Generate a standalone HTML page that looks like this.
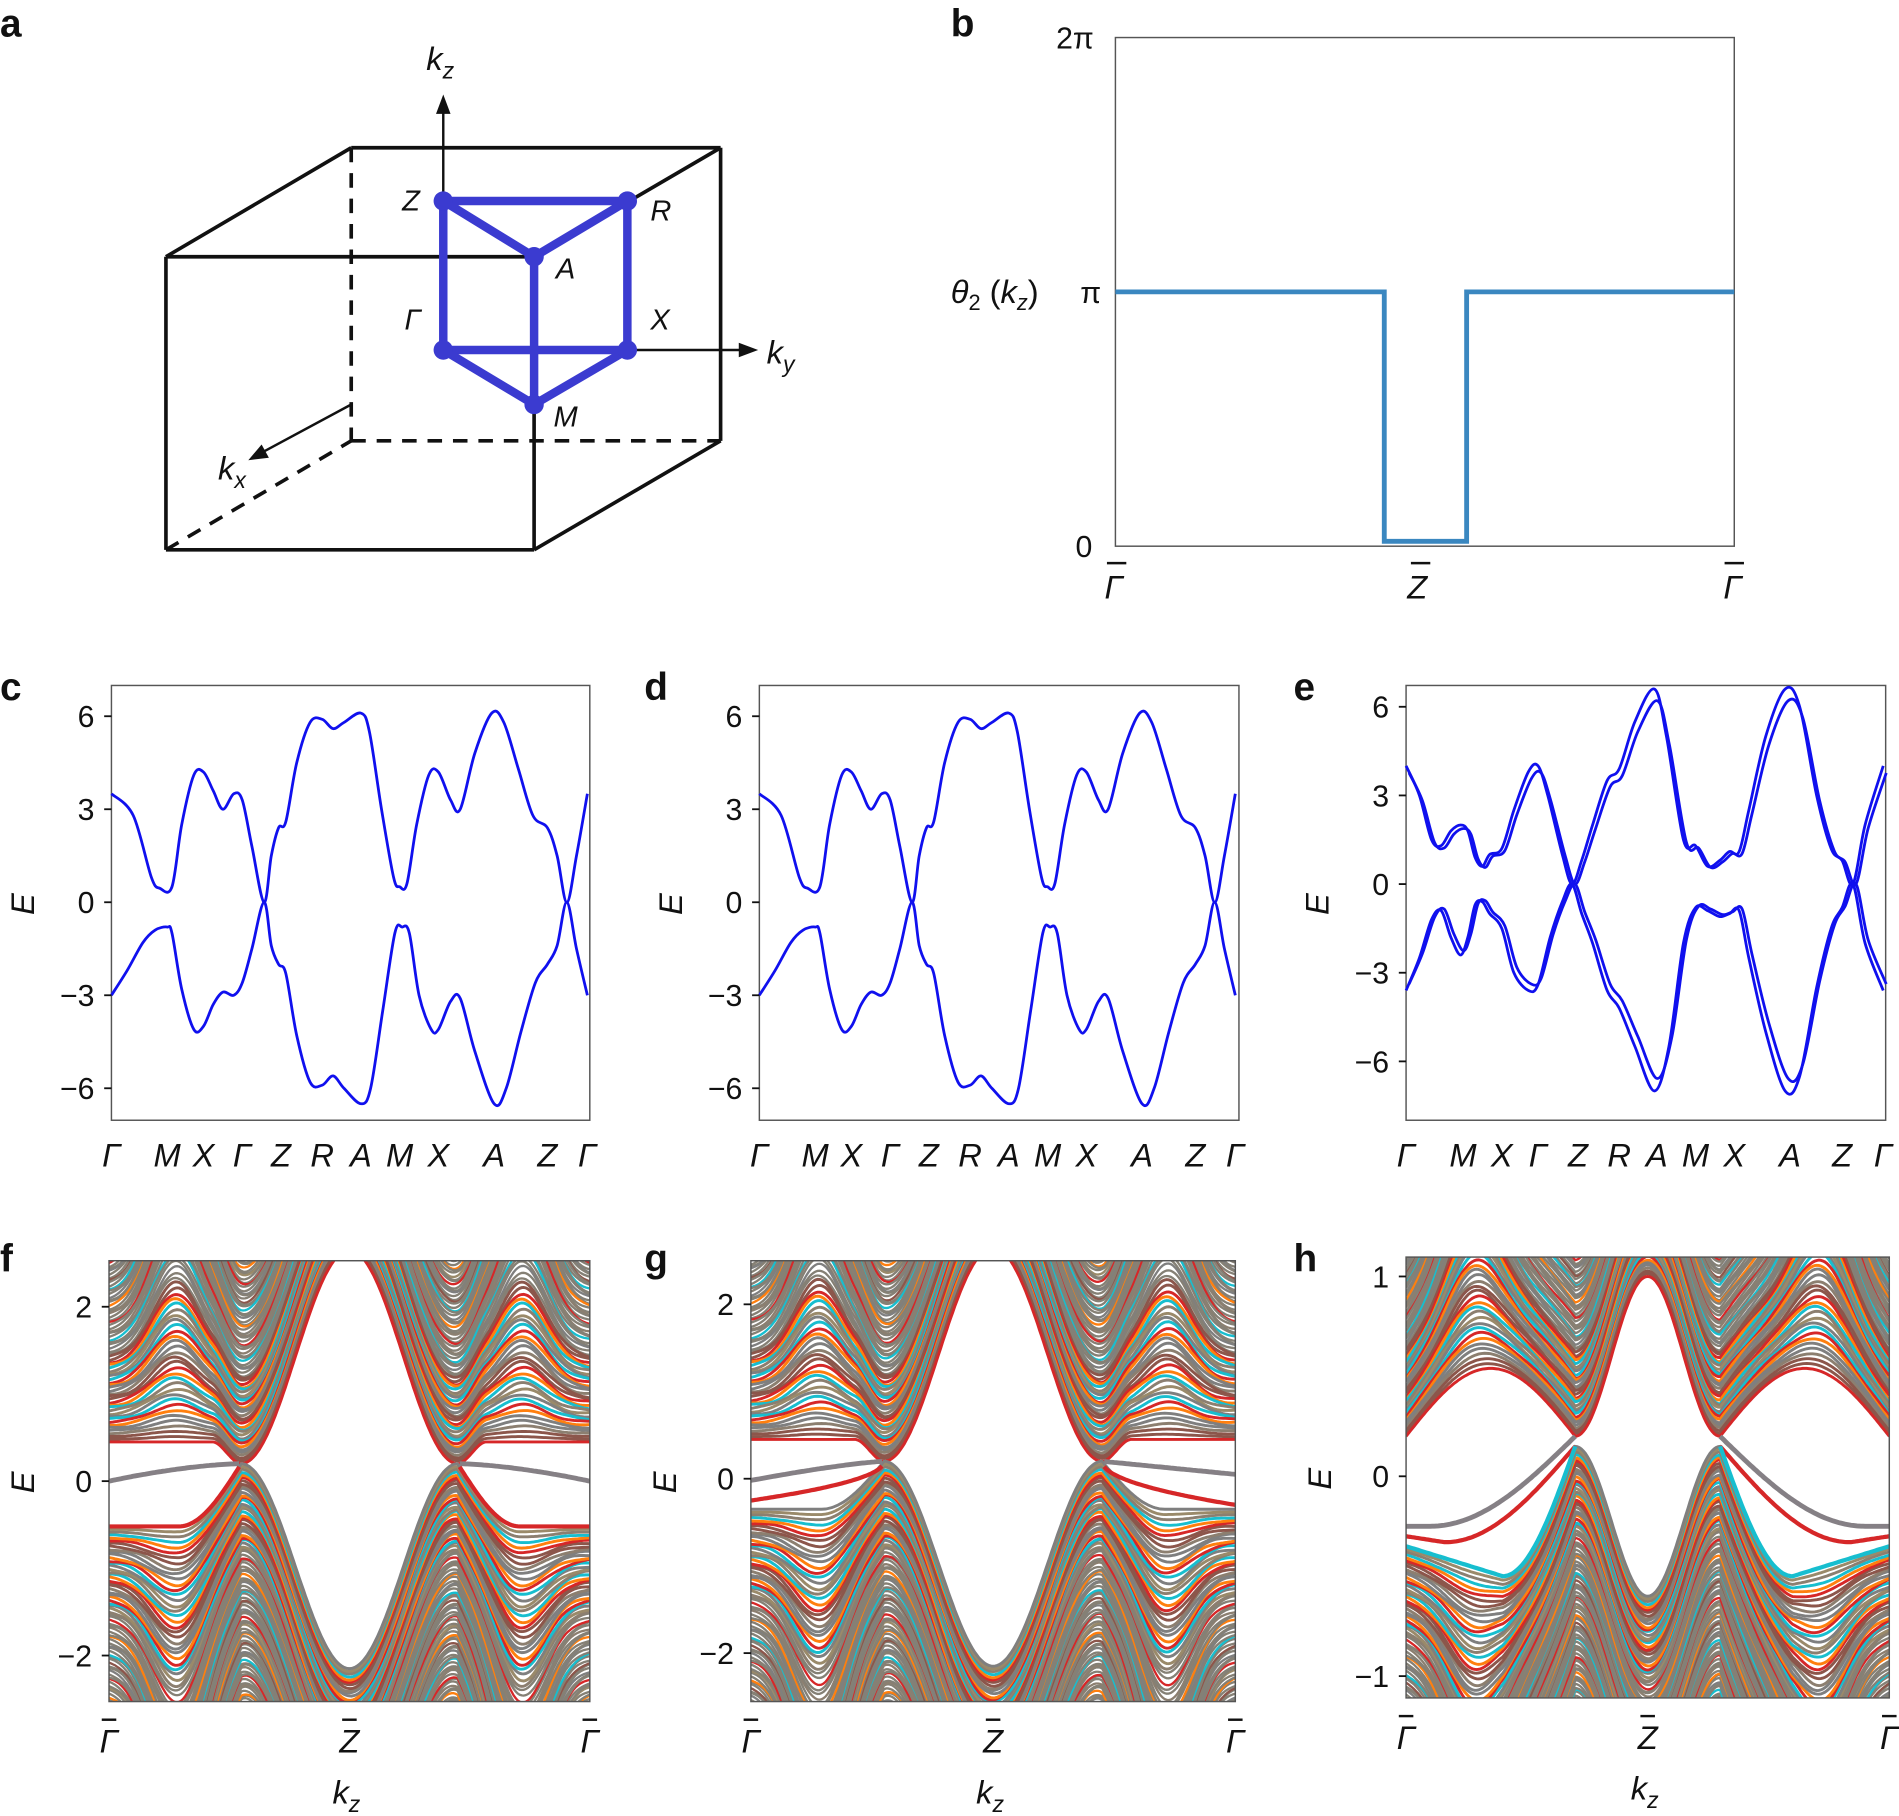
<!DOCTYPE html>
<html><head><meta charset="utf-8"><style>
html,body{margin:0;padding:0;background:#fff;width:1899px;height:1816px;overflow:hidden;}
svg{display:block;position:absolute;left:0;top:0;}
text{font-family:"Liberation Sans",sans-serif;fill:#111;}
.t{font-size:25px;}
.it{font-style:italic;font-size:27px;}
.L{font-weight:bold;font-size:32px;}
</style></head><body>
<svg id="s" xmlns="http://www.w3.org/2000/svg" width="1899" height="1816" viewBox="0 0 1568 1499.5">
<defs>
<clipPath id="cf"><rect x="90" y="1041" width="397" height="364"/></clipPath>
<clipPath id="cg"><rect x="620" y="1041" width="400" height="364"/></clipPath>
<clipPath id="ch"><rect x="1161" y="1038" width="399" height="364"/></clipPath>
</defs>
<text class="L" x="0" y="30">a</text>
<g stroke="#111" stroke-width="3" fill="none">
<line x1="137" y1="212" x2="441" y2="212"/><line x1="137" y1="212" x2="137" y2="454"/>
<line x1="137" y1="454" x2="441" y2="454"/><line x1="441" y1="212" x2="441" y2="454"/>
<line x1="137" y1="212" x2="290" y2="122"/><line x1="290" y1="122" x2="595" y2="122"/>
<line x1="441" y1="212" x2="595" y2="122"/><line x1="595" y1="122" x2="595" y2="364"/>
<line x1="441" y1="454" x2="595" y2="364"/>
<g stroke-dasharray="12,9"><line x1="290" y1="122" x2="290" y2="364"/><line x1="290" y1="364" x2="595" y2="364"/><line x1="137" y1="454" x2="290" y2="364"/></g>
<line x1="366" y1="289" x2="366" y2="84" stroke-width="2"/>
<line x1="518" y1="289" x2="618" y2="289" stroke-width="2"/>
<line x1="290" y1="334" x2="212" y2="376" stroke-width="2"/>
</g>
<polygon points="366,78 360,94 372,94" fill="#111"/>
<polygon points="626,289 610,283 610,295" fill="#111"/>
<polygon points="205,380 216,367 222,378" fill="#111"/>
<g stroke="#3b3bd0" stroke-width="7" fill="none" stroke-linejoin="round">
<polyline points="441,212 366,166 518,166 441,212 441,334 366,289 518,289 441,334"/>
<line x1="366" y1="166" x2="366" y2="289"/><line x1="518" y1="166" x2="518" y2="289"/>
</g>
<g fill="#3b3bd0"><circle cx="366" cy="166" r="8"/><circle cx="518" cy="166" r="8"/><circle cx="441" cy="212" r="8"/><circle cx="366" cy="289" r="8"/><circle cx="518" cy="289" r="8"/><circle cx="441" cy="334" r="8"/></g>
<g class="it"><text x="352" y="58">k<tspan font-size="19" dy="7">z</tspan></text>
<text x="633" y="300">k<tspan font-size="19" dy="7">y</tspan></text>
<text x="180" y="396">k<tspan font-size="19" dy="7">x</tspan></text>
<text x="332" y="174" font-size="24">Z</text><text x="537" y="182" font-size="24">R</text>
<text x="459" y="230" font-size="24">A</text><text x="334" y="272" font-size="24">Γ</text>
<text x="537" y="272" font-size="24">X</text><text x="457" y="352" font-size="24">M</text></g>
<text class="L" x="785" y="30">b</text>
<rect x="921" y="31" width="511" height="420" fill="none" stroke="#555" stroke-width="1.2"/>
<polyline points="921,241 1143,241 1143,447 1211,447 1211,241 1432,241" fill="none" stroke="#3a87c0" stroke-width="4"/>
<text class="t" x="872" y="40">2π</text><text class="t" x="892" y="250">π</text><text class="t" x="888" y="460">0</text>
<text class="it" x="785" y="250" font-size="25">θ<tspan font-size="18" dy="6" font-style="normal">2</tspan><tspan dy="-6" font-style="normal"> (</tspan>k<tspan font-size="18" dy="6">z</tspan><tspan dy="-6" font-style="normal">)</tspan></text>
<g stroke="#111" stroke-width="2"><line x1="914" y1="465" x2="930" y2="465"/><line x1="1165" y1="465" x2="1181" y2="465"/><line x1="1424" y1="465" x2="1440" y2="465"/></g>
<g class="it"><text x="912" y="494">Γ</text><text x="1162" y="494">Z</text><text x="1423" y="494">Γ</text></g>
<text class="L" x="0" y="578">c</text><text class="L" x="532" y="578">d</text><text class="L" x="1068" y="578">e</text>
<text class="L" x="0" y="1050">f</text><text class="L" x="532" y="1050">g</text><text class="L" x="1068" y="1050">h</text>
<g id="dyn"></g>
</svg>
<script>
const NS='http://www.w3.org/2000/svg';const dyn=document.getElementById('dyn');
function el(t,a,p){const e=document.createElementNS(NS,t);for(const k in a)e.setAttribute(k,a[k]);(p||dyn).appendChild(e);return e;}
function txt(x,y,s,cls,anchor){const e=el('text',{x:x,y:y,class:cls,'text-anchor':anchor||'start'});e.textContent=s;return e;}
function cr(p){let d='M'+p[0][0]+','+p[0][1];for(let i=0;i<p.length-1;i++){const p0=p[Math.max(0,i-1)],p1=p[i],p2=p[i+1],p3=p[Math.min(p.length-1,i+2)];
d+=' C'+(p1[0]+(p2[0]-p0[0])/6)+','+(p1[1]+(p2[1]-p0[1])/6)+' '+(p2[0]-(p3[0]-p1[0])/6)+','+(p2[1]-(p3[1]-p1[1])/6)+' '+p2[0]+','+p2[1];}return d;}
const topC=[[92,3.5],[110,2.8],[125,0.8],[132,0.45],[142,0.5],[150,2.5],[160,4.1],[168,4.2],[176,3.6],[184,3.0],[193,3.5],[200,3.3],[208,1.8],[218,0],[224,1.5],[230,2.4],[236,2.6],[245,4.5],[256,5.8],[266,5.9],[275,5.6],[284,5.8],[298,6.1],[305,5.5],[315,3],[325,0.8],[330,0.5],[336,0.6],[344,2.5],[354,4.1],[362,4.2],[372,3.3],[380,3.0],[392,4.8],[406,6.1],[416,5.8],[428,4.3],[440,2.8],[452,2.4],[460,1.5],[468,0],[476,1.5],[485,3.5]];
const botC=[[92,-3],[105,-2.2],[118,-1.3],[128,-0.9],[138,-0.8],[142,-1],[150,-2.8],[160,-4.1],[168,-4.0],[176,-3.3],[184,-2.9],[193,-3.0],[200,-2.6],[208,-1.5],[218,0],[224,-1.4],[230,-2.0],[236,-2.3],[245,-4.3],[256,-5.8],[266,-5.9],[275,-5.6],[284,-6.0],[298,-6.5],[306,-6],[316,-3.5],[326,-1.0],[332,-0.8],[338,-1.0],[346,-3],[356,-4.1],[362,-4.1],[372,-3.2],[380,-3.1],[392,-4.8],[408,-6.5],[418,-6],[430,-4.2],[442,-2.6],[452,-2.0],[460,-1.4],[468,0],[476,-1.5],[485,-3]];
const topE=[[1161,4],[1172,3],[1182,1.5],[1190,1.3],[1198,1.8],[1206,2],[1212,1.8],[1218,0.9],[1224,0.6],[1230,1.0],[1240,1.2],[1250,2.5],[1262,3.8],[1270,4],[1278,3],[1290,1],[1298,0],[1306,0.8],[1315,2],[1327,3.5],[1337,3.9],[1350,5.5],[1366,6.6],[1376,5],[1390,1.5],[1400,1.3],[1410,0.6],[1420,0.8],[1428,1.1],[1436,1.1],[1444,2.5],[1458,5],[1474,6.6],[1486,6],[1500,3],[1512,1.2],[1521,0.8],[1530,0],[1540,2],[1555,4]];
const botE=[[1161,-3.6],[1172,-2.5],[1182,-1.2],[1190,-0.9],[1198,-1.8],[1206,-2.4],[1212,-1.8],[1218,-0.7],[1224,-0.6],[1230,-1.0],[1240,-1.5],[1250,-3],[1262,-3.6],[1270,-3.4],[1280,-1.8],[1290,-0.6],[1298,0],[1306,-1],[1315,-2],[1327,-3.6],[1337,-4.2],[1350,-5.5],[1366,-7],[1378,-5.5],[1390,-2],[1400,-0.8],[1410,-0.9],[1420,-1.1],[1428,-1],[1436,-0.9],[1444,-2.5],[1458,-5],[1474,-7],[1486,-6.5],[1500,-3.5],[1512,-1.5],[1521,-0.8],[1530,0],[1540,-2],[1555,-3.6]];
function bandPanel(x0,x1,y0,y1,yE,curves,ticks,labs){
  el('rect',{x:x0,y:y0,width:x1-x0,height:y1-y0,fill:'none',stroke:'#555','stroke-width':1.2});
  curves.forEach(c=>{el('path',{d:cr(c.map(p=>[p[0],yE(p[1])])),fill:'none',stroke:'#1010ee','stroke-width':2.3});});
  ticks.forEach(t=>{const y=yE(t);el('line',{x1:x0-6,y1:y,x2:x0,y2:y,stroke:'#111','stroke-width':1.5});txt(x0-14,y+9,t<0?'\u2212'+(-t):''+t,'t','end');});
  const ym=(y0+y1)/2;const e=el('text',{x:0,y:0,class:'it',transform:'translate('+(x0-64)+','+(ym+10)+') rotate(-90)'});e.textContent='E';
  labs.forEach(l=>txt(l[0],y1+38,l[1],'it','middle'));
}
const lx=[[92,'Γ'],[138,'M'],[168,'X'],[200,'Γ'],[232,'Z'],[266,'R'],[298,'A'],[330,'M'],[362,'X'],[408,'A'],[452,'Z'],[485,'Γ']];
bandPanel(92,487,566,925,E=>745-25.6*E,[topC,botC],[6,3,0,-3,-6],lx);
bandPanel(627,1023,566,925,E=>745-25.6*E,[topC.map(p=>[p[0]+535,p[1]]),botC.map(p=>[p[0]+535,p[1]])],[6,3,0,-3,-6],lx.map(l=>[l[0]+535,l[1]]));
const lxe=[[1161,'Γ'],[1208,'M'],[1240,'X'],[1270,'Γ'],[1303,'Z'],[1337,'R'],[1368,'A'],[1400,'M'],[1432,'X'],[1478,'A'],[1521,'Z'],[1555,'Γ']];
const sh=(c,d,s)=>c.map(p=>[p[0]+d,p[1]*s]);
bandPanel(1161,1557,566,925,E=>730-24.4*E,[topE,sh(topE,2.5,0.94),botE,sh(botE,2.5,0.94)],[6,3,0,-3,-6],lxe);

const pal=['#d62728','#8c7f70','#ff7f0e','#7f7f7f','#17becf','#8c564b','#7f7f7f','#d62728','#9a8a6a','#ff7f0e','#8c564b','#7f7f7f','#17becf','#8c7f70'];
function cont(clip,x0,x1,yE,edge,dir,n,step,arch,seed,sw){
  const g=el('g',{'clip-path':'url(#'+clip+')'});
  for(let i=n;i>=0;i--){let pts=[];for(let k=0;k<=240;k++){const u=k/240;const off=step*i*(1+arch(u))+(i>0?step*0.4*Math.sin(u*53+i*1.7)*Math.min(1,i/10):0);
    pts.push((x0+(x1-x0)*u).toFixed(1)+','+yE(edge(u)+dir*off).toFixed(1));}
    const col=i>30&&(i%3)?'#858075':pal[(i*5+seed)%pal.length];
    el('polyline',{points:pts.join(' '),fill:'none',stroke:col,'stroke-width':i>30?sw*0.8:sw},g);}
  return g;
}
function line(clip,x0,x1,yE,f,col,w){const g=el('g',{'clip-path':'url(#'+clip+')'});let segs=[],cur=[];
 for(let k=0;k<=240;k++){const u=k/240;const v=f(u);if(v===null){if(cur.length>1)segs.push(cur);cur=[];continue;}cur.push((x0+(x1-x0)*u).toFixed(1)+','+yE(v).toFixed(1));}
 if(cur.length>1)segs.push(cur);
 segs.forEach(s=>el('polyline',{points:s.join(' '),fill:'none',stroke:col,'stroke-width':w},g));}
const archF=u=>{const d=Math.abs(u-0.5);return 0.9*Math.exp(-Math.pow((d-0.36)/0.07,2));};
function surf(clip,x0,x1,y0,y1,yE,cf,vf,gray,red,ticks,lab){
  el('rect',{x:x0,y:y0,width:x1-x0,height:y1-y0,fill:'#fff'});
  cont(clip,x0,x1,yE,cf,1,lab.n,lab.st,archF,0,2.4);
  cont(clip,x0,x1,yE,vf,-1,lab.n,lab.st,archF,3,2.4);
  line(clip,x0,x1,yE,gray,'#858085',4);
  line(clip,x0,x1,yE,red,'#d62728',3.5);
  if(lab.cy) line(clip,x0,x1,yE,lab.cy,'#17becf',3.5);
  el('rect',{x:x0,y:y0,width:x1-x0,height:y1-y0,fill:'none',stroke:'#555','stroke-width':1.2});
  ticks.forEach(t=>{const y=yE(t);el('line',{x1:x0-6,y1:y,x2:x0,y2:y,stroke:'#111','stroke-width':1.5});txt(x0-14,y+9,t<0?'\u2212'+(-t):''+t,'t','end');});
  const ym=(y0+y1)/2;const e=el('text',{x:0,y:0,class:'it',transform:'translate('+(x0-62)+','+(ym+10)+') rotate(-90)'});e.textContent='E';
  const xm=(x0+x1)/2;[[x0,'Γ'],[xm,'Z'],[x1,'Γ']].forEach(l=>{txt(l[0],y1+42,l[1],'it','middle');el('line',{x1:l[0]-6,y1:y1+15,x2:l[0]+6,y2:y1+15,stroke:'#111','stroke-width':2});});
  const k=el('text',{x:xm-14,y:y1+84,class:'it'});k.innerHTML='k<tspan font-size="19" dy="7">z</tspan>';
}
const w=0.225,C=(d)=>(1+Math.cos(Math.PI*d/w))/2;
const sm=x=>{x=Math.max(0,Math.min(1,x));return x*x*(3-2*x);};
const cfF=u=>{const d=Math.abs(u-0.5);return d<w?0.2+2.45*C(d):0.2+0.25*sm((d-w)/0.06);};
const vfF=(lo)=>u=>{const d=Math.abs(u-0.5);return d<w?0.2-2.35*C(d):0.2-(0.2-lo)*Math.sin(Math.PI/2*Math.min(1,(d-w)/0.13));};
const yF=E=>1223-72*E;
surf('cf',90,487,1041,1405,yF,cfF,vfF(-0.52),u=>{const d=Math.abs(u-0.5);return d<w?null:0.2-0.2*Math.pow((d-w)/(0.5-w),1.6);},
 u=>{const d=Math.abs(u-0.5);return d<w?null:vfF(-0.52)(u);},[2,0,-2],{st:0.032,n:110});
const yG=E=>1221-72*E;
surf('cg',620,1020,1041,1405,yG,cfF,vfF(-0.35),u=>{const d=Math.abs(u-0.5);return d<w?null:(u<0.5?0.2-0.22*Math.pow((d-w)/(0.5-w),1.3):0.2-0.15*Math.pow((d-w)/(0.5-w),1));},
 u=>{const d=Math.abs(u-0.5);return d<w?null:(u<0.5?0.2-0.45*Math.pow((d-w)/(0.5-w),0.5):0.2-0.5*Math.pow((d-w)/(0.5-w),0.5));},[2,0,-2],{st:0.032,n:110});
const yH=E=>1219-165*E,q=0.15;
const chF=u=>{const d=Math.abs(u-0.5);return d<q?0.2+0.8*(1+Math.cos(Math.PI*d/q))/2:0.2+0.34*Math.sin(Math.PI*(d-q)/0.35);};
const vhF=u=>{const d=Math.abs(u-0.5);if(d<q)return 0.15-0.75*(1+Math.cos(Math.PI*d/q))/2;if(d<0.3)return 0.15-0.65*Math.sin(Math.PI/2*(d-q)/0.15);return -0.5+0.15*(d-0.3)/0.2;};
surf('ch',1161,1560,1038,1402,yH,chF,vhF,u=>{const d=Math.abs(u-0.5);return d<q?null:0.2-0.45*Math.sin(Math.PI/2*Math.min(1,(d-q)/0.3));},
 u=>{const d=Math.abs(u-0.5);return d<q?null:0.15-0.48*Math.sin(Math.PI/2*Math.min(1,(d-q)/0.27))+0.03*Math.max(0,(d-0.42)/0.08);},[1,0,-1],{st:0.014,n:110,cy:u=>{const d=Math.abs(u-0.5);return d<q?null:vhF(u);}});
</script>
</body></html>
